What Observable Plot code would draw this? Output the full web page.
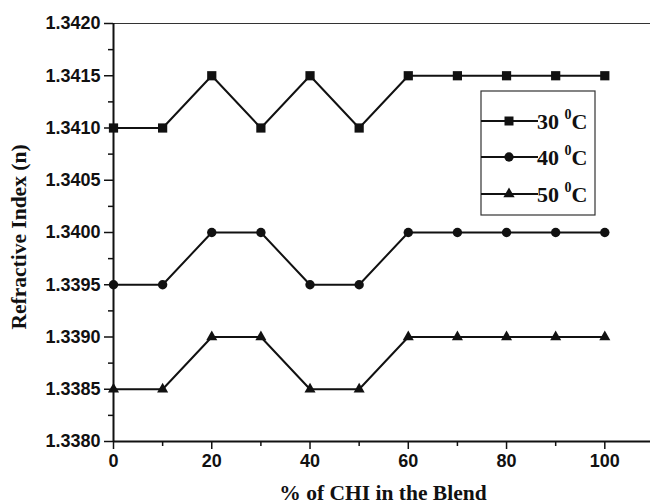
<!DOCTYPE html>
<html>
<head>
<meta charset="utf-8">
<script src="https://cdn.jsdelivr.net/npm/d3@7"></script>
<script src="https://cdn.jsdelivr.net/npm/@observablehq/plot@0.6"></script>
<style>
  html, body { margin: 0; padding: 0; background: #fff; }
  #chart { position: relative; width: 650px; height: 504px; }
  #chart svg { display: block; }
  #chart svg g[aria-label="x-axis tick label"] text,
  #chart svg g[aria-label="y-axis tick label"] text {
    font-family: 'Liberation Sans', Arial, sans-serif !important;
    font-weight: bold !important;
    font-size: 18px !important;
    fill: #111;
  }
</style>
</head>
<body>
<div id="chart"></div>
<script>
const blendPct = [0, 10, 20, 30, 40, 50, 60, 70, 80, 90, 100];
const n30 = [1.3410, 1.3410, 1.3415, 1.3410, 1.3415, 1.3410, 1.3415, 1.3415, 1.3415, 1.3415, 1.3415];
const n40 = [1.3395, 1.3395, 1.3400, 1.3400, 1.3395, 1.3395, 1.3400, 1.3400, 1.3400, 1.3400, 1.3400];
const n50 = [1.3385, 1.3385, 1.3390, 1.3390, 1.3385, 1.3385, 1.3390, 1.3390, 1.3390, 1.3390, 1.3390];
const seriesNames = ["30", "40", "50"];
const xMajor = [0, 20, 40, 60, 80, 100];
const xMinor = [10, 30, 50, 70, 90];
const yMajor = [1.3380, 1.3385, 1.3390, 1.3395, 1.3400, 1.3405, 1.3410, 1.3415, 1.3420];
const yMinor = [1.33825, 1.33875, 1.33925, 1.33975, 1.34025, 1.34075, 1.34125, 1.34175];
const xDomain = [0, 109.3];
const yDomain = [1.3380, 1.3420];

const mk = (vals) => blendPct.map((x, i) => ({x, y: vals[i]}));
const d30 = mk(n30), d40 = mk(n40), d50 = mk(n50);

const plot = Plot.plot({
  width: 650,
  height: 504,
  marginLeft: 113,
  marginRight: 0,
  marginTop: 23,
  marginBottom: 63,
  style: {background: "#fff", color: "#111"},
  x: {domain: xDomain},
  y: {domain: yDomain},
  marks: [
    Plot.axisX({ticks: xMajor, tickSize: 8, tickPadding: 5, label: null, tickFormat: d3.format("d"), strokeWidth: 1.5}),
    Plot.axisX({ticks: xMinor, tickSize: 5, text: null, label: null, strokeWidth: 1.5}),
    Plot.axisY({ticks: yMajor, tickSize: 9, tickPadding: 4, label: null, tickFormat: d3.format(".4f"), strokeWidth: 1.5}),
    Plot.axisY({ticks: yMinor, tickSize: 5, text: null, label: null, strokeWidth: 1.5}),
    Plot.ruleY([yDomain[1]], {stroke: "#333", strokeWidth: 1}),
    Plot.ruleY([yDomain[0]], {stroke: "#111", strokeWidth: 2}),
    Plot.ruleX([xDomain[0]], {stroke: "#111", strokeWidth: 2}),
    Plot.line(d30, {x: "x", y: "y", stroke: "#111", strokeWidth: 2}),
    Plot.line(d40, {x: "x", y: "y", stroke: "#111", strokeWidth: 2}),
    Plot.line(d50, {x: "x", y: "y", stroke: "#111", strokeWidth: 2}),
    Plot.dot(d30, {x: "x", y: "y", symbol: "square", r: 5.2, fill: "#111", stroke: "none"}),
    Plot.dot(d40, {x: "x", y: "y", symbol: "circle", r: 4.7, fill: "#111", stroke: "none"}),
    Plot.dot(d50, {x: "x", y: "y", symbol: "triangle", r: 4.1, fill: "#111", stroke: "none"})
  ]
});

document.getElementById("chart").appendChild(plot);

// axis titles and legend
const svg = d3.select(plot);
const serif = "'Liberation Serif', 'Times New Roman', serif";
const titleStyle = `font-family:${serif};font-weight:bold;font-size:21.5px;fill:#111`;
svg.append("text")
  .attr("x", 383).attr("y", 500)
  .attr("text-anchor", "middle")
  .attr("style", titleStyle)
  .text("% of CHI in the Blend");
svg.append("text")
  .attr("transform", "translate(26,237) rotate(-90)")
  .attr("text-anchor", "middle")
  .attr("style", titleStyle)
  .text("Refractive Index (n)");

const lg = svg.append("g");
lg.append("rect").attr("x", 481).attr("y", 91).attr("width", 114).attr("height", 124)
  .attr("fill", "#fff").attr("stroke", "#333").attr("stroke-width", 1.2);
const symbols = [d3.symbolSquare, d3.symbolCircle, d3.symbolTriangle];
const sizes = [81, 68, 55];
const rowsY = [121, 157, 194];
seriesNames.forEach((name, i) => {
  const y = rowsY[i];
  lg.append("line").attr("x1", 481).attr("x2", 538).attr("y1", y).attr("y2", y)
    .attr("stroke", "#111").attr("stroke-width", 2);
  lg.append("path").attr("d", d3.symbol(symbols[i], sizes[i])())
    .attr("transform", `translate(509,${y})`).attr("fill", "#111");
  const t = lg.append("text").attr("x", 537).attr("y", y + 8)
    .attr("text-anchor", "start")
    .attr("style", `font-family:${serif};font-weight:bold;font-size:22px;fill:#111`);
  t.append("tspan").text(name + " ");
  t.append("tspan").attr("dy", -10).attr("style", "font-size:14px").text("0");
  t.append("tspan").attr("dy", 10).text("C");
});
</script>
</body>
</html>
